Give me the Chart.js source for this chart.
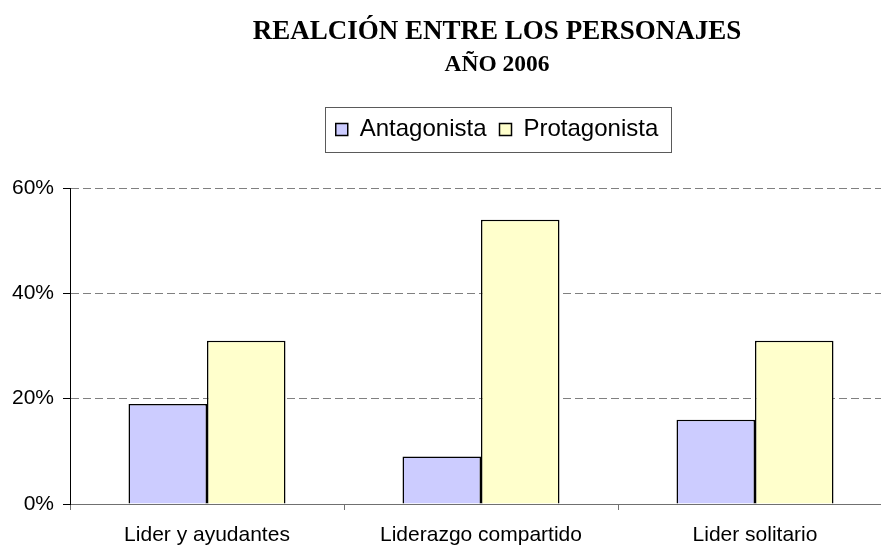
<!DOCTYPE html>
<html>
<head>
<meta charset="utf-8">
<script src="https://cdn.jsdelivr.net/npm/chart.js@4"></script>
<style>
  html, body { margin: 0; padding: 0; background: #fff; }
  .wrap { width: 881px; height: 546px; overflow: hidden; }
  canvas { display: block; }
</style>
</head>
<body>
<div class="wrap">
  <canvas id="chart" width="994" height="546"></canvas>
</div>
<script>
// --- Data ---
const categories = ['Lider y ayudantes', 'Liderazgo compartido', 'Lider solitario'];
const antagonista = [19, 9, 16];
const protagonista = [31, 54, 31];
const yTicks = [0, 20, 40, 60];

const SANS = "'Liberation Sans', Arial, sans-serif";
const SERIF = "'Liberation Serif', 'Times New Roman', serif";

// legend gets extra room below it, and a frame around it like the original
const legendFrame = {
  id: 'legendFrame',
  beforeInit(chart) {
    const fit = chart.legend.fit;
    chart.legend.fit = function () {
      fit.call(this);
      this.height = 83.5;
    };
  },
  afterDraw(chart) {
    const boxes = chart.legend.legendHitBoxes;
    if (!boxes || !boxes.length) return;
    const left = Math.min(...boxes.map(b => b.left));
    const right = Math.max(...boxes.map(b => b.left + b.width));
    const mid = boxes[0].top + boxes[0].height / 2;
    const ctx = chart.ctx;
    ctx.save();
    ctx.strokeStyle = '#5a5a5a';
    ctx.lineWidth = 1;
    ctx.strokeRect(Math.round(left - 11) + 0.5, Math.round(mid - 22.5) + 0.5,
      Math.round(right - left + 23), 45);
    ctx.restore();
  },
};

new Chart(document.getElementById('chart'), {
  type: 'bar',
  data: {
    labels: categories,
    datasets: [
      {
        label: 'Antagonista',
        data: antagonista,
        backgroundColor: '#CCCCFF',
        borderColor: '#000',
        borderWidth: 1.5,
        categoryPercentage: 0.573,
        barPercentage: 1,
      },
      {
        label: 'Protagonista',
        data: protagonista,
        backgroundColor: '#FFFFCC',
        borderColor: '#000',
        borderWidth: 1.5,
        categoryPercentage: 0.573,
        barPercentage: 1,
      },
    ],
  },
  options: {
    responsive: false,
    animation: false,
    layout: { padding: 0 },
    plugins: {
      title: {
        display: true,
        text: 'REALCIÓN ENTRE LOS PERSONAJES',
        color: '#000',
        font: { family: SERIF, size: 27, weight: 'bold' },
        padding: { top: 16, bottom: 2 },
      },
      subtitle: {
        display: true,
        text: 'AÑO 2006',
        color: '#000',
        font: { family: SERIF, size: 23.5, weight: 'bold' },
        padding: { top: 0, bottom: 26 },
      },
      legend: {
        position: 'top',
        labels: {
          color: '#000',
          boxWidth: 12,
          boxHeight: 12,
          padding: 13,
          font: { family: SANS, size: 24 },
        },
      },
      tooltip: { enabled: false },
    },
    scales: {
      x: {
        grid: {
          display: true,
          drawOnChartArea: false,
          drawTicks: true,
          tickLength: 6,
          color: '#707070',
          offset: true,
        },
        border: { display: true, color: '#707070', width: 1 },
        ticks: {
          color: '#000',
          padding: 13,
          maxRotation: 0,
          font: { family: SANS, size: 21 },
        },
        afterFit(scale) { scale.height = 42; },
      },
      y: {
        min: 0,
        max: 60,
        afterBuildTicks(scale) { scale.ticks = yTicks.map(v => ({ value: v })); },
        grid: {
          color: '#808080',
          lineWidth: 1,
          tickLength: 7,
          tickColor: '#000',
          tickBorderDash: [],
        },
        border: { display: true, color: '#000', width: 1, dash: [8, 4] },
        ticks: {
          color: '#000',
          padding: 9,
          font: { family: SANS, size: 21 },
          callback: v => v + '%',
        },
        afterFit(scale) { scale.width = 70; },
      },
      // empty box on the right, the plot runs past the visible edge
      spacer: {
        type: 'linear',
        position: 'right',
        display: true,
        grid: { display: false },
        border: { display: false },
        ticks: { display: false },
        afterFit(scale) { scale.width = 102; },
      },
    },
  },
  plugins: [legendFrame],
});
</script>
</body>
</html>
